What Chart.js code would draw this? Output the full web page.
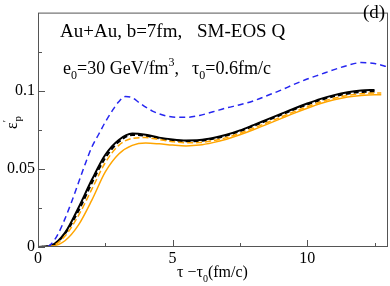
<!DOCTYPE html>
<html>
<head>
<meta charset="UTF-8">
<title>epsilon_p vs tau</title>
<script src="https://cdn.jsdelivr.net/npm/chart.js"></script>
<style>
  html, body { margin: 0; padding: 0; background: #fff; }
  #wrap { width: 390px; height: 286px; }
</style>
</head>
<body>
<div id="wrap"><canvas id="grafico" width="390" height="286"></canvas></div>
<script>
  // tau - tau0 (fm/c)
  const tauMain = [0, 0.5, 1, 1.5, 2, 2.5, 3, 3.5, 4, 4.5, 5, 5.5, 6, 6.5, 7, 7.5, 8, 8.5, 9, 9.5, 10, 10.5, 11, 11.5, 12, 12.5];
  const tauOrange = [0, 0.5, 1, 1.5, 2, 2.5, 3, 3.5, 4, 4.5, 5, 5.5, 6, 6.5, 7, 7.5, 8, 8.5, 9, 9.5, 10, 10.5, 11, 11.5, 12, 12.5, 12.75];
  const tauBlue = [0, 0.3, 0.5, 0.75, 1, 1.25, 1.5, 1.75, 2, 2.25, 2.5, 2.75, 3, 3.25, 3.5, 3.75, 4, 4.25, 4.5, 5, 5.5, 6, 6.5, 7, 7.5, 8, 8.5, 9, 9.5, 10, 10.5, 11, 11.5, 12, 12.5, 13];

  // epsilon'_p
  const epsBlackSolid = [0, 0.001, 0.009, 0.025, 0.043, 0.059, 0.0685, 0.0726, 0.0718, 0.0700, 0.0688, 0.0682, 0.0684, 0.0697, 0.0718, 0.0746, 0.0780, 0.0815, 0.0850, 0.0885, 0.0918, 0.0948, 0.0972, 0.0990, 0.1001, 0.1005];
  const epsBlackDashed = [0, 0.0008, 0.0085, 0.023, 0.041, 0.057, 0.0673, 0.0717, 0.0712, 0.0695, 0.0683, 0.0677, 0.0679, 0.0692, 0.0713, 0.0741, 0.0774, 0.0809, 0.0844, 0.0879, 0.0911, 0.0941, 0.0964, 0.0981, 0.0991, 0.0995];
  const epsOrangeDashed = [0, 0.0006, 0.007, 0.020, 0.037, 0.054, 0.0650, 0.0695, 0.0700, 0.0687, 0.0674, 0.0667, 0.0668, 0.0680, 0.0700, 0.0728, 0.0760, 0.0795, 0.0830, 0.0865, 0.0898, 0.0928, 0.0952, 0.0970, 0.0981, 0.0985, 0.0985];
  const epsOrangeSolid = [0, 0.0004, 0.004, 0.014, 0.030, 0.048, 0.0595, 0.0650, 0.0665, 0.0660, 0.0652, 0.0647, 0.0652, 0.0668, 0.0690, 0.0718, 0.0750, 0.0785, 0.0820, 0.0855, 0.0888, 0.0918, 0.0942, 0.0960, 0.0970, 0.0974, 0.0974];
  const epsBlue = [0, 0, 0.002, 0.0085, 0.018, 0.029, 0.041, 0.053, 0.064, 0.072, 0.080, 0.087, 0.0930, 0.0963, 0.0955, 0.0925, 0.0895, 0.0870, 0.0852, 0.0832, 0.0830, 0.0842, 0.0865, 0.0890, 0.0910, 0.0935, 0.0968, 0.1002, 0.1040, 0.1075, 0.1105, 0.1135, 0.1162, 0.1180, 0.1175, 0.1152];

  // ticks
  const xMajor = [0, 5, 10];
  const xMinor = [2.5, 7.5, 12.5];
  const yMajor = [0, 0.05, 0.1];
  const yMinor = [0.025, 0.075, 0.125];

  const serif = '"Liberation Serif", "DejaVu Serif", serif';

  function pares(xs, ys) {
    return xs.map((x, i) => ({ x: x, y: ys[i] }));
  }

  function serie(xs, ys, cor, largura, tracejado) {
    return {
      data: pares(xs, ys),
      borderColor: cor,
      borderWidth: largura,
      borderDash: tracejado,
      pointRadius: 0,
      fill: false,
      cubicInterpolationMode: 'monotone'
    };
  }

  // text with sub/superscripts, pieces = [[text, 'n'|'sub'|'sup'], ...]
  function textoComIndices(ctx, pecas, x, y, tam) {
    let cx = x;
    pecas.forEach(p => {
      let t = p[0], tipo = p[1];
      let f = tipo === 'n' ? tam : Math.round(tam * 0.65);
      let dy = tipo === 'sub' ? tam * 0.3 : (tipo === 'sup' ? -tam * 0.42 : 0);
      ctx.font = f + 'px ' + serif;
      ctx.fillText(t, cx, y + dy);
      cx += ctx.measureText(t).width;
    });
  }

  const extras = {
    id: 'extras',
    afterDraw(chart) {
      const ctx = chart.ctx;
      const a = chart.chartArea;
      const sx = chart.scales.x, sy = chart.scales.y;
      ctx.save();
      // inward ticks
      ctx.strokeStyle = '#555';
      ctx.lineWidth = 1;
      ctx.beginPath();
      xMajor.forEach(v => { let p = Math.round(sx.getPixelForValue(v)) + 0.5; ctx.moveTo(p, a.bottom); ctx.lineTo(p, a.bottom - 7); });
      xMinor.forEach(v => { let p = Math.round(sx.getPixelForValue(v)) + 0.5; ctx.moveTo(p, a.bottom); ctx.lineTo(p, a.bottom - 4); });
      yMajor.forEach(v => { let p = Math.round(sy.getPixelForValue(v)) + 0.5; ctx.moveTo(a.left, p); ctx.lineTo(a.left + 7, p); });
      yMinor.forEach(v => { let p = Math.round(sy.getPixelForValue(v)) + 0.5; ctx.moveTo(a.left, p); ctx.lineTo(a.left + 4, p); });
      ctx.stroke();
      // frame
      ctx.strokeStyle = '#555';
      ctx.strokeRect(a.left + 0.5, a.top + 0.5, a.right - a.left - 1, a.bottom - a.top - 1);

      ctx.fillStyle = '#000';
      ctx.textBaseline = 'alphabetic';
      ctx.textAlign = 'left';
      textoComIndices(ctx, [['Au+Au, b=7fm,', 'n']], 60, 37, 19);
      textoComIndices(ctx, [['SM-EOS Q', 'n']], 197, 37, 19);
      textoComIndices(ctx, [['e', 'n'], ['0', 'sub'], ['=30 GeV/fm', 'n'], ['3', 'sup'], [',', 'n']], 63, 74, 18);
      textoComIndices(ctx, [['\u03c4', 'n'], ['0', 'sub'], ['=0.6fm/c', 'n']], 192, 74, 18);
      textoComIndices(ctx, [['(d)', 'n']], 363, 18, 19);
      // x title
      textoComIndices(ctx, [['\u03c4 \u2212\u03c4', 'n'], ['0', 'sub'], ['(fm/c)', 'n']], 177, 277, 16);
      // y title
      ctx.translate(17, 129);
      ctx.rotate(-Math.PI / 2);
      textoComIndices(ctx, [['\u03b5', 'n'], ['\u2032', 'sup']], 0, 0, 16);
      ctx.font = '11px ' + serif;
      ctx.fillText('p', 7.5, 4);
      ctx.restore();
    }
  };

  const config = {
    type: 'line',
    data: {
      datasets: [
        serie(tauBlue, epsBlue, '#2626f0', 1.5, [6, 4]),
        serie(tauOrange, epsOrangeSolid, '#ffa500', 1.5, []),
        serie(tauOrange, epsOrangeDashed, '#ffa500', 1.5, [6, 3]),
        serie(tauMain, epsBlackDashed, '#000000', 2, [5, 3]),
        serie(tauMain, epsBlackSolid, '#000000', 2, [])
      ]
    },
    options: {
      responsive: false,
      animation: false,
      events: [],
      layout: { padding: { top: 2, right: 1, left: 0, bottom: 0 } },
      plugins: { legend: { display: false }, tooltip: { enabled: false } },
      scales: {
        x: {
          type: 'linear',
          min: 0,
          max: 13,
          grid: { display: false, drawTicks: false },
          border: { display: false },
          afterFit(s) { s.height = 39; },
          ticks: {
            stepSize: 2.5,
            autoSkip: false,
            maxRotation: 0,
            padding: 2,
            color: '#000',
            font: { family: serif, size: 16 },
            callback: v => (v % 5 === 0 ? String(v) : '')
          }
        },
        y: {
          type: 'linear',
          min: 0,
          max: 0.15,
          grid: { display: false, drawTicks: false },
          border: { display: false },
          afterFit(s) { s.width = 38; },
          ticks: {
            stepSize: 0.025,
            autoSkip: false,
            padding: 3,
            color: '#000',
            font: { family: serif, size: 16 },
            callback: v => {
              const r = Math.round(v * 1000);
              if (r === 0) return '0';
              if (r === 50) return '0.05';
              if (r === 100) return '0.1';
              return '';
            }
          }
        }
      }
    },
    plugins: [extras]
  };

  new Chart(document.getElementById('grafico'), config);
</script>
</body>
</html>
